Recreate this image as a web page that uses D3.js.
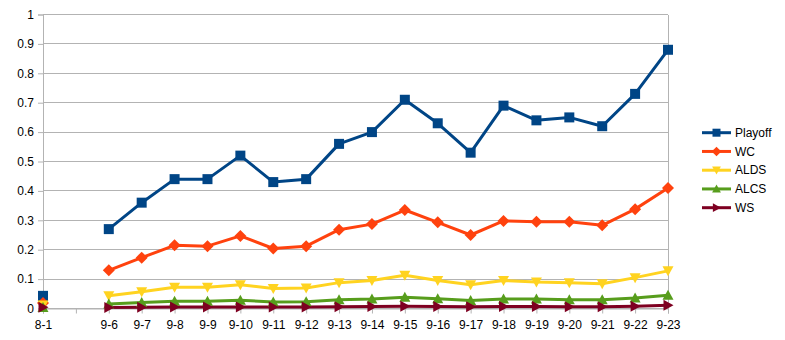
<!DOCTYPE html>
<html><head><meta charset="utf-8">
<script src="https://cdn.jsdelivr.net/npm/d3@7"></script>
<style>body{margin:0;background:#fff}svg{display:block;font-family:"Liberation Sans",Arial,sans-serif}</style>
</head><body><svg id="c" width="785" height="340"></svg>
<script>
const categories = ["8-1","","9-6","9-7","9-8","9-9","9-10","9-11","9-12","9-13","9-14","9-15","9-16","9-17","9-18","9-19","9-20","9-21","9-22","9-23"];
const playoff = [0.043,null,0.27,0.36,0.44,0.44,0.52,0.43,0.44,0.56,0.60,0.71,0.63,0.53,0.69,0.64,0.65,0.62,0.73,0.88];
const wc      = [0.019,null,0.13,0.173,0.215,0.212,0.247,0.204,0.212,0.268,0.287,0.335,0.293,0.25,0.298,0.295,0.295,0.283,0.338,0.41];
const alds    = [0.012,null,0.043,0.057,0.072,0.072,0.081,0.068,0.07,0.088,0.095,0.113,0.095,0.081,0.095,0.09,0.088,0.084,0.105,0.128];
const alcs    = [0.003,null,0.015,0.02,0.025,0.025,0.028,0.022,0.023,0.03,0.032,0.038,0.033,0.027,0.032,0.032,0.03,0.03,0.036,0.045];
const ws      = [0.004,null,0.003,0.004,0.005,0.005,0.005,0.005,0.005,0.006,0.007,0.008,0.007,0.006,0.007,0.007,0.006,0.006,0.008,0.011];
const yTicks = [0,0.1,0.2,0.3,0.4,0.5,0.6,0.7,0.8,0.9,1];
const seriesNames = ["Playoff","WC","ALDS","ALCS","WS"];
const seriesColors = ["#004586","#ff420e","#ffd320","#579d1c","#7e0021"];
const seriesMarkers = ["square","diamond","down","up","right"];
const seriesData = [playoff, wc, alds, alcs, ws];

const svg = d3.select("#c");
const L = 43, R = 668, T = 14.5, B = 308.5;
const x = d3.scalePoint().domain(d3.range(categories.length)).range([L, R]);
const y = d3.scaleLinear().domain([0,1]).range([B, T]);

// gridlines
svg.append("g").selectAll("line").data(yTicks).join("line")
  .attr("x1", L).attr("x2", R).attr("y1", d=>y(d)).attr("y2", d=>y(d))
  .attr("stroke", "#b3b3b3").attr("stroke-width", 1).attr("shape-rendering","crispEdges");
// right border
svg.append("line").attr("x1",R).attr("x2",R).attr("y1",T).attr("y2",B).attr("stroke","#b3b3b3").attr("shape-rendering","crispEdges");

// y axis
const yAxis = svg.append("g").attr("transform", `translate(${L},0)`)
  .call(d3.axisLeft(y).tickValues(yTicks).tickFormat(d=>d3.format("~g")(d)).tickSize(5).tickPadding(4));
yAxis.select(".domain").attr("stroke","#b3b3b3");
yAxis.selectAll(".tick line").attr("stroke","#b3b3b3");
yAxis.selectAll("text").attr("font-size",12).attr("fill","#000").attr("font-family","Liberation Sans, Arial, sans-serif");

// x axis
const xAxis = svg.append("g").attr("transform", `translate(0,${B})`)
  .call(d3.axisBottom(x).tickFormat(i=>categories[i]).tickSize(5).tickPadding(7));
xAxis.select(".domain").attr("stroke","#b3b3b3");
xAxis.selectAll(".tick line").attr("stroke","#b3b3b3");
xAxis.selectAll("text").attr("font-size",12).attr("fill","#000").attr("font-family","Liberation Sans, Arial, sans-serif");

function markerPath(type, s) {
  switch(type){
    case "square": return `M${-s},${-s}H${s}V${s}H${-s}Z`;
    case "diamond": return `M0,${-s*1.2}L${s*1.2},0L0,${s*1.2}L${-s*1.2},0Z`;
    case "down": return `M${-s*1.1},${-s*0.9}H${s*1.1}L0,${s*1.1}Z`;
    case "up": return `M${-s*1.1},${s*0.9}H${s*1.1}L0,${-s*1.1}Z`;
    case "right": return `M${-s*0.9},${-s*1.1}V${s*1.1}L${s*1.1},0Z`;
  }
}

const line = d3.line().defined(d=>d.v!=null).x(d=>x(d.i)).y(d=>y(d.v));
seriesData.forEach((arr, k) => {
  const pts = arr.map((v,i)=>({i,v}));
  svg.append("path").datum(pts).attr("d", line).attr("fill","none")
    .attr("stroke", seriesColors[k]).attr("stroke-width", 3).attr("stroke-linejoin","round");
});
seriesData.forEach((arr, k) => {
  const pts = arr.map((v,i)=>({i,v})).filter(d=>d.v!=null);
  svg.append("g").selectAll("path").data(pts).join("path")
    .attr("transform", d=>`translate(${x(d.i)},${y(d.v)})`)
    .attr("d", markerPath(seriesMarkers[k], 5)).attr("fill", seriesColors[k]);
});

// legend
const lg = svg.append("g");
seriesNames.forEach((n,k)=>{
  const yy = 132.7 + k*18.75;
  lg.append("line").attr("x1",702).attr("x2",731).attr("y1",yy).attr("y2",yy)
    .attr("stroke",seriesColors[k]).attr("stroke-width",3);
  lg.append("path").attr("transform",`translate(716.5,${yy})`).attr("d",markerPath(seriesMarkers[k],4)).attr("fill",seriesColors[k]);
  lg.append("text").attr("x",735).attr("y",yy).attr("dy","0.35em").attr("font-size",12).text(n);
});
</script></body></html>
